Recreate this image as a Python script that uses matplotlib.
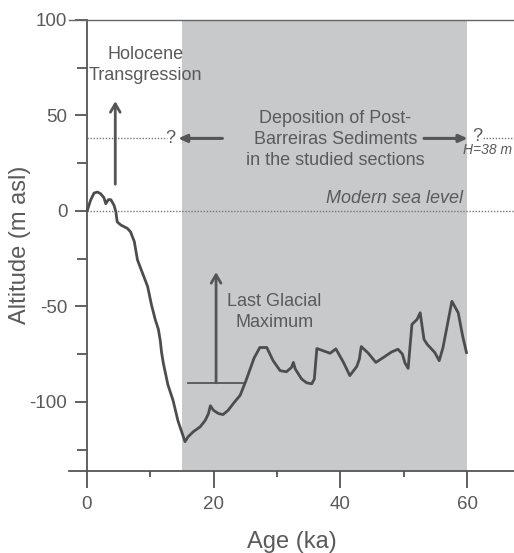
import matplotlib
matplotlib.use("Agg")
import matplotlib.pyplot as plt
from matplotlib.ticker import MultipleLocator

plt.rcParams["font.family"] = ["Liberation Sans", "DejaVu Sans"]

# ============================ #
# Sea-level curve (read off)   #
# ============================ #
age_ka = [0.1, 0.6, 1.15, 1.7, 2.2, 2.7, 3.0, 3.4, 3.8, 4.3, 4.6, 4.8, 5.4, 6.4,
          6.9, 7.5, 8.0, 8.5, 9.0, 9.6, 10.2, 10.8, 11.3, 11.6, 11.8, 12.1, 12.8,
          13.6, 14.4, 15.5, 16.0, 16.8, 17.9, 18.7, 19.2, 19.5, 20.0, 20.8, 21.5,
          22.3, 23.2, 24.2, 25.1, 26.4, 27.3, 28.4, 29.4, 30.5, 31.5, 32.3, 32.6,
          32.9, 33.9, 34.7, 35.5, 35.9, 36.3, 37.3, 38.4, 39.3, 40.5, 41.5, 42.6,
          43.0, 43.3, 44.4, 45.6, 46.8, 48.1, 49.1, 49.8, 50.2, 50.7, 51.3, 52.1,
          52.6, 53.2, 53.7, 54.9, 55.6, 56.2, 57.6, 58.6, 59.3, 59.9]
altitude_m = [0.4, 5.6, 9.4, 9.9, 9.0, 7.0, 3.8, 5.9, 5.9, 3.0, -0.5, -5.7, -7.4,
              -9.1, -10.9, -16, -25.6, -30, -34.3, -39.5, -49, -56.8, -62, -68, -74,
              -80, -91, -99, -110, -120.8, -118.2, -115.6, -113, -109.6, -106.1, -102,
              -104.4, -106.1, -106.6, -104.4, -100.5, -96.5, -89, -77, -71.5, -71.5,
              -78.4, -83.6, -84.2, -81.9, -79.3, -82.8, -88, -90, -90.5, -88, -72,
              -73.2, -74.5, -72.2, -79.3, -86.2, -81.4, -77.6, -71, -74.4, -79.3,
              -76.7, -73.8, -72.4, -75, -79.6, -82.4, -59.4, -56.8, -53.3, -67.2,
              -69.8, -74.1, -78.4, -71.5, -47.3, -53.3, -65.5, -74.1]

# deposition window and reference levels
deposition_span = [15, 60]
post_barreiras_h = 38
modern_sea_level = 0
lgm_level = -90

x_ticks = [0, 20, 40, 60]
y_ticks = [-100, -50, 0, 50, 100]
y_ticklabels = ["-100", "-50", "0", "50", "100"]

GRAY = "#555555"
TXT = "#5a5a5a"
FS = 13

fig = plt.figure(figsize=(5.14, 5.53), dpi=100)
ax = fig.add_axes([69 / 514, (553 - 470.7) / 553, 445 / 514, 450.7 / 553])

ax.set_xlim(-2.8, 67.4)
ax.set_ylim(-136, 100)

# shaded deposition window
ax.axvspan(deposition_span[0], deposition_span[1], color="#c8c9cb", lw=0, zorder=0)

# dotted reference lines
dot = (0, (1, 1.2))
ax.plot([0, 67.4], [modern_sea_level, modern_sea_level], ls=dot,
        color="#777777", lw=1.0, zorder=1)
ax.plot([0, 12.6], [post_barreiras_h, post_barreiras_h], ls=dot,
        color="#777777", lw=1.0, zorder=1)
ax.plot([62.5, 67.4], [post_barreiras_h, post_barreiras_h], ls=dot,
        color="#777777", lw=1.0, zorder=1)

# the curve
ax.plot(age_ka, altitude_m, color="#4d4d4d", lw=2.0, zorder=3)

# Holocene transgression
ax.annotate("", xy=(4.5, 57.5), xytext=(4.5, 14),
            arrowprops=dict(arrowstyle="->,head_length=0.6,head_width=0.35",
                            color=GRAY, lw=2.0, shrinkA=0, shrinkB=0))
ax.text(9.3, 76.4, "Holocene\nTransgression", ha="center", va="center",
        fontsize=FS, color=TXT, linespacing=1.35)

# Last Glacial Maximum
ax.plot([16.0, 25.0], [lgm_level, lgm_level], color=GRAY, lw=1.3, zorder=2)
ax.annotate("", xy=(20.4, -32), xytext=(20.4, lgm_level),
            arrowprops=dict(arrowstyle="->,head_length=0.6,head_width=0.35",
                            color=GRAY, lw=2.0, shrinkA=0, shrinkB=0))
ax.text(29.6, -53, "Last Glacial\nMaximum", ha="center", va="center",
        fontsize=FS, color=TXT, linespacing=1.35)

# deposition of Post-Barreiras sediments
ax.text(39.2, 37.5, "Deposition of Post-\nBarreiras Sediments\nin the studied sections",
        ha="center", va="center", fontsize=FS, color=TXT, linespacing=1.3)
ax.annotate("", xy=(14.4, post_barreiras_h), xytext=(21.4, post_barreiras_h),
            arrowprops=dict(arrowstyle="-|>,head_length=0.5,head_width=0.22",
                            color=GRAY, lw=2.2, shrinkA=0, shrinkB=0))
ax.annotate("", xy=(60.1, post_barreiras_h), xytext=(53.2, post_barreiras_h),
            arrowprops=dict(arrowstyle="-|>,head_length=0.5,head_width=0.22",
                            color=GRAY, lw=2.2, shrinkA=0, shrinkB=0))
ax.text(13.2, post_barreiras_h, "?", ha="center", va="center", fontsize=FS, color=TXT)
ax.text(61.6, post_barreiras_h + 1.0, "?", ha="center", va="center", fontsize=FS, color=TXT)
ax.text(63.2, 31.8, "H=38 m", ha="center", va="center", fontsize=10,
        style="italic", color=TXT)

ax.text(59.3, 6.5, "Modern sea level", ha="right", va="center", fontsize=FS,
        style="italic", color=TXT)

# axes styling
ax.spines["right"].set_visible(False)
ax.spines["left"].set_position(("data", 0))
for s in ["left", "bottom"]:
    ax.spines[s].set_color(GRAY)
    ax.spines[s].set_linewidth(1.3)
ax.spines["top"].set_linewidth(1.0)
ax.spines["top"].set_color("#666666")

ax.set_xticks(x_ticks)
ax.set_yticks(y_ticks)
ax.set_yticklabels(y_ticklabels)
ax.xaxis.set_minor_locator(MultipleLocator(10))
ax.yaxis.set_minor_locator(MultipleLocator(25))
ax.tick_params(axis="x", which="major", length=12, width=1.3, color=GRAY,
               labelsize=13.5, labelcolor=TXT, pad=6)
ax.tick_params(axis="x", which="minor", length=4.5, width=1.3, color=GRAY)
ax.tick_params(axis="y", which="major", length=9, width=1.3, color=GRAY,
               labelsize=13.5, labelcolor=TXT, pad=5)
ax.tick_params(axis="y", which="minor", length=7, width=1.3, color=GRAY)
ax.tick_params(top=False, right=False)

ax.set_xlabel("Age (ka)", fontsize=17, color=TXT, labelpad=13)
fig.text(20 / 514, 1 - 245 / 553, "Altitude (m asl)", rotation=90, ha="center",
         va="center", fontsize=17, color=TXT)

fig.savefig("out.png", dpi=100)
